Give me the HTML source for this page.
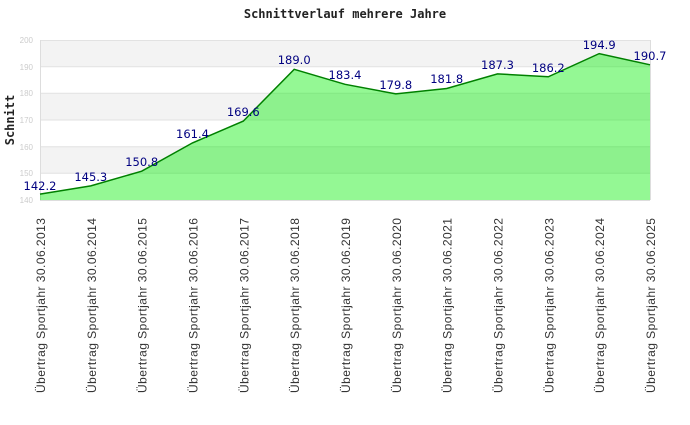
<!DOCTYPE html>
<html><head><style>body{margin:0;background:#fff}</style></head><body>
<svg width="690" height="420" xmlns="http://www.w3.org/2000/svg" font-family="Liberation Sans, sans-serif">
<rect width="690" height="420" fill="#fff"/>
<text x="345" y="18" text-anchor="middle" font-family="DejaVu Sans Mono, monospace" font-weight="bold" font-size="12" fill="#222">Schnittverlauf mehrere Jahre</text>
<text transform="translate(14,120) rotate(-90)" text-anchor="middle" font-family="DejaVu Sans Mono, monospace" font-weight="bold" font-size="12" fill="#222">Schnitt</text>
<g>
<rect x="40" y="40" width="610" height="26.67" fill="#f3f3f3"/>
<rect x="40" y="93.33" width="610" height="26.67" fill="#f3f3f3"/>
<rect x="40" y="146.67" width="610" height="26.67" fill="#f3f3f3"/>
<g stroke="#e2e2e2" stroke-width="1">
<line x1="40" x2="650" y1="40.5" y2="40.5"/><line x1="40" x2="650" y1="66.7" y2="66.7"/><line x1="40" x2="650" y1="93.3" y2="93.3"/><line x1="40" x2="650" y1="120" y2="120"/><line x1="40" x2="650" y1="146.7" y2="146.7"/><line x1="40" x2="650" y1="173.3" y2="173.3"/>
</g>
<line x1="40.5" y1="40" x2="40.5" y2="200" stroke="#ddd"/>
<line x1="650.5" y1="40" x2="650.5" y2="200" stroke="#ddd"/>
<line x1="40" y1="200.5" x2="650" y2="200.5" stroke="#ddd"/>
</g>
<g font-size="8" fill="#ccc" text-anchor="end">
<text x="33" y="43">200</text><text x="33" y="70">190</text><text x="33" y="96">180</text><text x="33" y="123">170</text><text x="33" y="150">160</text><text x="33" y="176">150</text><text x="33" y="203">140</text>
</g>
<polygon fill="#00ee00" fill-opacity="0.42" stroke="none" points="40,200 40,194.1 90.8,185.9 141.7,171.2 192.5,142.9 243.3,121.1 294.2,69.3 345,84.3 395.8,93.9 446.7,88.5 497.5,73.9 548.3,76.8 599.2,53.6 650,64.8 650,200"/>
<polyline fill="none" stroke="#008000" stroke-width="1.5" points="40,194.1 90.8,185.9 141.7,171.2 192.5,142.9 243.3,121.1 294.2,69.3 345,84.3 395.8,93.9 446.7,88.5 497.5,73.9 548.3,76.8 599.2,53.6 650,64.8"/>
<g font-size="11.5" fill="#000080" text-anchor="middle" font-family="DejaVu Sans, sans-serif">
<text x="40" y="190">142.2</text><text x="90.8" y="181">145.3</text><text x="141.7" y="166">150.8</text><text x="192.5" y="138">161.4</text><text x="243.3" y="116">169.6</text><text x="294.2" y="64">189.0</text><text x="345" y="79">183.4</text><text x="395.8" y="89">179.8</text><text x="446.7" y="83">181.8</text><text x="497.5" y="69">187.3</text><text x="548.3" y="72">186.2</text><text x="599.2" y="49">194.9</text><text x="650" y="60">190.7</text>
</g>
<g font-size="12" fill="#333" text-anchor="end">
<text transform="translate(45,218) rotate(-90)" textLength="175">Übertrag Sportjahr 30.06.2013</text>
<text transform="translate(95.8,218) rotate(-90)" textLength="175">Übertrag Sportjahr 30.06.2014</text>
<text transform="translate(146.7,218) rotate(-90)" textLength="175">Übertrag Sportjahr 30.06.2015</text>
<text transform="translate(197.5,218) rotate(-90)" textLength="175">Übertrag Sportjahr 30.06.2016</text>
<text transform="translate(248.3,218) rotate(-90)" textLength="175">Übertrag Sportjahr 30.06.2017</text>
<text transform="translate(299.2,218) rotate(-90)" textLength="175">Übertrag Sportjahr 30.06.2018</text>
<text transform="translate(350,218) rotate(-90)" textLength="175">Übertrag Sportjahr 30.06.2019</text>
<text transform="translate(400.8,218) rotate(-90)" textLength="175">Übertrag Sportjahr 30.06.2020</text>
<text transform="translate(451.7,218) rotate(-90)" textLength="175">Übertrag Sportjahr 30.06.2021</text>
<text transform="translate(502.5,218) rotate(-90)" textLength="175">Übertrag Sportjahr 30.06.2022</text>
<text transform="translate(553.3,218) rotate(-90)" textLength="175">Übertrag Sportjahr 30.06.2023</text>
<text transform="translate(604.2,218) rotate(-90)" textLength="175">Übertrag Sportjahr 30.06.2024</text>
<text transform="translate(655,218) rotate(-90)" textLength="175">Übertrag Sportjahr 30.06.2025</text>
</g>
</svg>
</body></html>
